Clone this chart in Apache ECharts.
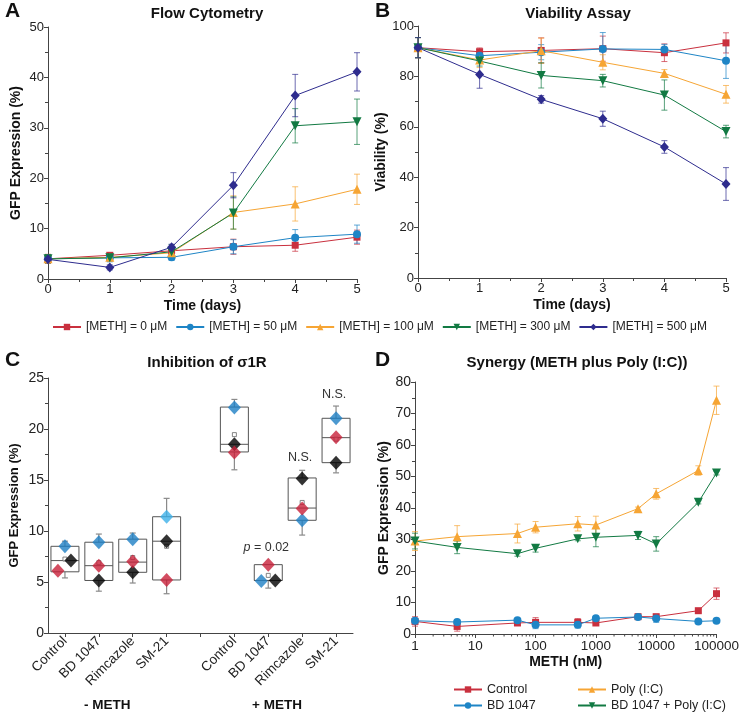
<!DOCTYPE html>
<html><head><meta charset="utf-8">
<script src="https://cdn.jsdelivr.net/npm/echarts@6/dist/echarts.min.js"></script>
<style>html,body{margin:0;padding:0;background:#fff}#c{width:742px;height:712px}</style>
</head><body><div id="c"></div>
<script>
// ---------- Panel A / B data ----------
const days = [0, 1, 2, 3, 4, 5];
const methNames = ['[METH] = 0 μM', '[METH] = 50 μM', '[METH] = 100 μM', '[METH] = 300 μM', '[METH] = 500 μM'];
const flow0 = [4.0, 4.7, 5.6, 6.4, 6.7, 8.3];
const flow0Err = [0.9, 0.5, 0.5, 1.5, 1.2, 1.4];
const flow50 = [4.0, 4.2, 4.3, 6.4, 8.2, 8.9];
const flow50Err = [0.8, 0.8, 0.6, 1.4, 1.6, 1.8];
const flow100 = [4.0, 4.3, 5.2, 13.2, 14.9, 17.8];
const flow100Err = [0.8, 0.6, 0.8, 3.3, 3.4, 3.0];
const flow300 = [4.0, 4.2, 5.4, 13.1, 30.4, 31.2];
const flow300Err = [0.8, 0.6, 1.4, 3.2, 3.4, 4.5];
const flow500 = [3.9, 2.3, 6.3, 18.6, 36.4, 41.1];
const flow500Err = [0.6, 0.5, 0.6, 2.5, 4.2, 3.8];

const via0 = [91.4, 89.8, 90.3, 91.0, 89.4, 93.3];
const via0Err = [4, 1.5, 5, 5, 3.5, 4];
const via50 = [91.4, 88.2, 89.6, 90.9, 90.7, 86.2];
const via50Err = [4, 2.5, 3, 6.5, 2, 7];
const via100 = [91.4, 86.5, 90.2, 85.6, 81.2, 72.9];
const via100Err = [4, 3, 5, 3, 1.5, 3.5];
const via300 = [91.4, 86.1, 80.4, 78.3, 72.6, 58.1];
const via300Err = [4, 2, 5, 2.5, 6, 2.5];
const via500 = [91.4, 80.8, 70.9, 63.2, 52.0, 37.3];
const via500Err = [4, 5.5, 1.5, 3, 2.5, 6.5];

// ---------- Panel C data ----------
const catsC = ['Control', 'BD 1047', 'Rimcazole', 'SM-21', '', 'Control', 'BD 1047', 'Rimcazole', 'SM-21'];
const boxMin = [5.4, 4.1, 4.9, 3.85, null, 16.0, 4.4, 9.6, 15.7];
const boxQ1 = [6.0, 5.15, 5.95, 5.2, null, 17.75, 5.15, 11.05, 16.7];
const boxMed = [7.1, 6.6, 6.95, 9.0, null, 18.5, 5.15, 12.25, 19.15];
const boxQ3 = [8.5, 8.9, 9.2, 11.4, null, 22.15, 6.7, 15.2, 21.05];
const boxMax = [9.0, 9.7, 9.8, 13.2, null, 22.9, 6.7, 15.95, 22.25];
const meanC = [7.25, 6.9, 7.4, 8.5, null, 19.45, 5.65, 12.8, 19.0];
const ptBlue = [8.5, 8.9, 9.2, 11.4, null, 22.1, 5.1, 11.05, 21.05];
const ptRed = [6.1, 6.6, 7.0, 5.2, null, 17.7, 6.7, 12.2, 19.2];
const ptBlack = [7.1, 5.15, 5.95, 9.0, null, 18.5, 5.15, 15.15, 16.7];
const annoCat = [6, 7, 8];
const annoVal = [8.4, 17.2, 23.4];
const annoText = ['{i|p} = 0.02', 'N.S.', 'N.S.'];

// ---------- Panel D data ----------
const methNM = [1, 5, 50, 100, 500, 1000, 5000, 10000, 50000, 100000];
const dNames = ['Control', 'BD 1047', 'Poly (I:C)', 'BD 1047 + Poly (I:C)'];
const dCtrl = [4.0, 2.4, 3.5, 3.7, 3.7, 3.5, 5.5, 5.5, 7.4, 12.8];
const dCtrlErr = [1.5, 1.5, 0.8, 1.5, 1.2, 0.5, 0.5, 0.5, 0.5, 1.8];
const dBD = [4.2, 3.8, 4.4, 2.9, 2.9, 5.0, 5.4, 4.9, 4.0, 4.2];
const dBDErr = [0.8, 0.6, 0.5, 1.2, 1.0, 0.5, 0.5, 1.2, 0.4, 0.5];
const dPoly = [29.5, 30.9, 31.9, 33.9, 35.0, 34.6, 39.8, 44.5, 51.9, 74.2];
const dPolyErr = [3, 3.5, 3, 1.8, 2.3, 2.8, 0.5, 1.7, 1.5, 4.5];
const dBDPoly = [29.5, 27.5, 25.5, 27.2, 30.2, 30.7, 31.3, 28.6, 41.8, 51.1];
const dBDPolyErr = [2.5, 2, 0.8, 1.2, 0.6, 3, 1.3, 2.3, 0.5, 0.6];
const logMinorTicks = [2,3,4,5,6,7,8,9,20,30,40,50,60,70,80,90,200,300,400,500,600,700,800,900,
  2000,3000,4000,5000,6000,7000,8000,9000,20000,30000,40000,50000,60000,70000,80000,90000];

// ---------- styles ----------
const FONT = "'Liberation Sans', Arial, sans-serif";
const C_RED = '#c9303e', C_BLUE = '#1e85c6', C_ORANGE = '#f6a534', C_GREEN = '#127a43', C_PURPLE = '#2e2c8e';
const SYM = {
  sq: {s: 'rect', size: 7, r: 0},
  ci: {s: 'circle', size: 8, r: 0},
  tu: {s: 'triangle', size: 9, r: 0},
  td: {s: 'triangle', size: 9, r: 180},
  di: {s: 'diamond', size: [9, 10], r: 0}
};
const AX = '#444';

function errSeries(xi, yi, xs, ys, es, color) {
  return {
    type: 'custom', xAxisIndex: xi, yAxisIndex: yi, z: 2, silent: true, animation: false,
    data: xs.map((x, i) => [x, ys[i], es[i]]), encode: {x: 0, y: 1},
    renderItem: (p, api) => {
      const x = api.value(0), y = api.value(1), e = api.value(2);
      const t = api.coord([x, y + e]), b = api.coord([x, y - e]);
      const st = {stroke: color, lineWidth: 1, opacity: 0.7};
      return {type: 'group', children: [
        {type: 'line', shape: {x1: t[0], y1: t[1], x2: b[0], y2: b[1]}, style: st},
        {type: 'line', shape: {x1: t[0] - 3, y1: t[1], x2: t[0] + 3, y2: t[1]}, style: st},
        {type: 'line', shape: {x1: b[0] - 3, y1: b[1], x2: b[0] + 3, y2: b[1]}, style: st}
      ]};
    }
  };
}
function lineSeries(name, xi, yi, xs, ys, color, sym) {
  return {
    type: 'line', name, xAxisIndex: xi, yAxisIndex: yi, animation: false, z: 3,
    data: xs.map((x, i) => [x, ys[i]]),
    symbol: sym.s, symbolSize: sym.size, symbolRotate: sym.r, showSymbol: true,
    lineStyle: {color, width: 1}, itemStyle: {color}
  };
}
function valAxis(o) {
  return Object.assign({
    type: 'value', gridIndex: 0,
    axisLine: {show: true, lineStyle: {color: AX, width: 1}},
    axisTick: {show: true, length: 4, lineStyle: {color: AX}},
    minorTick: {show: true, splitNumber: 2, length: 3, lineStyle: {color: AX}},
    splitLine: {show: false},
    axisLabel: {fontSize: 13, color: '#222', fontFamily: FONT, margin: 4},
    nameLocation: 'middle',
    nameTextStyle: {fontSize: 14, fontWeight: 'bold', color: '#111', fontFamily: FONT}
  }, o);
}

const series = [];
const flows = [flow0, flow50, flow100, flow300, flow500];
const flowErrs = [flow0Err, flow50Err, flow100Err, flow300Err, flow500Err];
const vias = [via0, via50, via100, via300, via500];
const viaErrs = [via0Err, via50Err, via100Err, via300Err, via500Err];
const abColors = [C_RED, C_BLUE, C_ORANGE, C_GREEN, C_PURPLE];
const abSyms = [SYM.sq, SYM.ci, SYM.tu, SYM.td, SYM.di];
for (let k = 0; k < 5; k++) {
  series.push(lineSeries(methNames[k], 0, 0, days, flows[k], abColors[k], abSyms[k]));
  series.push(lineSeries(methNames[k], 1, 1, days, vias[k], abColors[k], abSyms[k]));
}
for (let k = 0; k < 5; k++) {
  series.push(errSeries(0, 0, days, flows[k], flowErrs[k], abColors[k]));
  series.push(errSeries(1, 1, days, vias[k], viaErrs[k], abColors[k]));
}
// Panel D
const dVals = [dCtrl, dBD, dPoly, dBDPoly];
const dErrs = [dCtrlErr, dBDErr, dPolyErr, dBDPolyErr];
const dColors = [C_RED, C_BLUE, C_ORANGE, C_GREEN];
const dSyms = [SYM.sq, SYM.ci, SYM.tu, SYM.td];
for (let k = 0; k < 4; k++) series.push(lineSeries(dNames[k], 3, 3, methNM, dVals[k], dColors[k], dSyms[k]));
for (let k = 0; k < 4; k++) series.push(errSeries(3, 3, methNM, dVals[k], dErrs[k], dColors[k]));
series.push({
  type: 'custom', xAxisIndex: 3, yAxisIndex: 3, silent: true, animation: false, clip: false,
  data: logMinorTicks.map(v => [v, 0]), encode: {x: 0, y: 1},
  renderItem: (p, api) => {
    const c = api.coord([api.value(0), 0]);
    return {type: 'line', shape: {x1: c[0], y1: c[1], x2: c[0], y2: c[1] + 2.5}, style: {stroke: AX, lineWidth: 1}};
  }
});

// Panel C boxes
const boxData = [];
catsC.forEach((c, i) => { if (boxQ1[i] != null) boxData.push([i, boxMin[i], boxQ1[i], boxMed[i], boxQ3[i], boxMax[i]]); });
series.push({
  type: 'custom', xAxisIndex: 2, yAxisIndex: 2, silent: true, animation: false, z: 2,
  data: boxData, encode: {x: 0, y: [1, 5]},
  renderItem: (p, api) => {
    const i = api.value(0);
    const cMin = api.coord([i, api.value(1)]), c1 = api.coord([i, api.value(2)]), cMd = api.coord([i, api.value(3)]),
          c3 = api.coord([i, api.value(4)]), cMax = api.coord([i, api.value(5)]);
    const x = c1[0], hw = 14, cw = 3;
    const wst = {stroke: '#8a8a8a', lineWidth: 1.2};
    const bst = {stroke: '#555', lineWidth: 1, fill: null};
    return {type: 'group', children: [
      {type: 'line', shape: {x1: x, y1: c3[1], x2: x, y2: cMax[1]}, style: wst},
      {type: 'line', shape: {x1: x - cw, y1: cMax[1], x2: x + cw, y2: cMax[1]}, style: wst},
      {type: 'line', shape: {x1: x, y1: c1[1], x2: x, y2: cMin[1]}, style: wst},
      {type: 'line', shape: {x1: x - cw, y1: cMin[1], x2: x + cw, y2: cMin[1]}, style: wst},
      {type: 'rect', shape: {x: x - hw, y: c3[1], width: 2 * hw, height: c1[1] - c3[1]}, style: {stroke: '#555', lineWidth: 1, fill: '#fff'}},
      {type: 'line', shape: {x1: x - hw, y1: cMd[1], x2: x + hw, y2: cMd[1]}, style: bst}
    ]};
  }
});
series.push({
  type: 'scatter', xAxisIndex: 2, yAxisIndex: 2, silent: true, animation: false, z: 3,
  symbol: 'rect', symbolSize: 4, itemStyle: {color: '#fff', borderColor: '#666', borderWidth: 1},
  data: meanC.map((v, i) => v == null ? null : [i, v]).filter(d => d)
});
const offRed = [-7, 0, 0, 0, 0, 0, 0, 0, 0];
const offBlue = [0, 0, 0, 0, 0, 0, -7, 0, 0];
const offBlack = [6, 0, 0, 0, 0, 0, 7, 0, 0];
const blueShade = ['#1e7fc4', '#1e7fc4', '#1e7fc4', '#3cb0e8', null, '#1e7fc4', '#1e7fc4', '#1e7fc4', '#1e7fc4'];
function diamonds(vals, offs, colorFn, z) {
  return {
    type: 'scatter', xAxisIndex: 2, yAxisIndex: 2, silent: true, animation: false, z,
    symbol: 'diamond', symbolSize: [13, 14],
    data: vals.map((v, i) => v == null ? null : {value: [i, v], symbolOffset: [offs[i], 0], itemStyle: {color: colorFn(i)}}).filter(d => d)
  };
}
series.push(diamonds(ptBlack, offBlack, () => '#000', 4));
series.push(diamonds(ptBlue, offBlue, i => blueShade[i], 5));
series.push(diamonds(ptRed, offRed, () => '#c8203a', 6));
series.push({
  type: 'custom', xAxisIndex: 2, yAxisIndex: 2, silent: true, animation: false, z: 7,
  data: annoCat.map((c, i) => [c, annoVal[i]]), encode: {x: 0, y: 1},
  renderItem: (p, api) => {
    const c = api.coord([api.value(0), api.value(1)]);
    return {type: 'text', x: c[0] - 2, y: c[1], style: {text: annoText[p.dataIndex], fill: '#333', font: '12.5px ' + FONT,
      align: 'center', verticalAlign: 'middle', rich: {i: {fontStyle: 'italic', fontSize: 12.5, fontFamily: FONT, fill: '#333'}}}};
  }
});

const titleStyle = {fontSize: 15, fontWeight: 'bold', color: '#111', fontFamily: FONT};
const letterStyle = {fontSize: 21, fontWeight: 'bold', color: '#111', fontFamily: FONT};
const legText = {fontSize: 12, color: '#222', fontFamily: FONT};
const legTextD = {fontSize: 12.5, color: '#222', fontFamily: FONT};
function oneLegend(name, left, top) {
  return {data: [name], left, top, itemWidth: 28, itemHeight: 8, textStyle: legTextD, padding: 0};
}

const option = {
  backgroundColor: '#fff',
  animation: false,
  title: [
    {text: 'A', left: 0, top: -4, textStyle: letterStyle},
    {text: 'Flow Cytometry', left: 202, top: 1, textAlign: 'center', textStyle: titleStyle},
    {text: 'B', left: 370, top: -4, textStyle: letterStyle},
    {text: 'Viability Assay', left: 573, top: 1, textAlign: 'center', textStyle: titleStyle},
    {text: 'C', left: 0, top: 345, textStyle: letterStyle},
    {text: 'Inhibition of σ1R', left: 202, top: 350, textAlign: 'center', textStyle: titleStyle},
    {text: 'D', left: 370, top: 345, textStyle: letterStyle},
    {text: 'Synergy (METH plus Poly (I:C))', left: 572, top: 350, textAlign: 'center', textStyle: titleStyle}
  ],
  legend: [
    {data: methNames, left: 52, top: 321, itemWidth: 28, itemHeight: 8, itemGap: 8, textStyle: legText, padding: 0},
    oneLegend('Control', 453, 683),
    oneLegend('BD 1047', 453, 699),
    oneLegend('Poly (I:C)', 577, 683),
    oneLegend('BD 1047 + Poly (I:C)', 577, 699)
  ],
  grid: [
    {left: 48, top: 27, width: 309, height: 252},
    {left: 418, top: 26, width: 308, height: 252},
    {left: 48, top: 378, width: 305, height: 255},
    {left: 415, top: 382, width: 311, height: 252}
  ],
  xAxis: [
    valAxis({gridIndex: 0, min: 0, max: 5, interval: 1, name: 'Time (days)', nameGap: 20}),
    valAxis({gridIndex: 1, min: 0, max: 5, interval: 1, name: 'Time (days)', nameGap: 20}),
    {type: 'category', gridIndex: 2, data: catsC, boundaryGap: true,
      axisLine: {show: true, lineStyle: {color: AX}},
      axisTick: {show: true, alignWithLabel: true, length: 4, lineStyle: {color: AX}},
      axisLabel: {rotate: 45, fontSize: 13.5, color: '#222', fontFamily: FONT, margin: 6, interval: 0}},
    valAxis({gridIndex: 3, type: 'log', logBase: 10, min: 1, max: 100000, minorTick: {show: false},
      name: 'METH (nM)', nameGap: 21,
      axisLabel: {fontSize: 13.5, color: '#222', fontFamily: FONT, margin: 5, formatter: v => String(Math.round(v))}})
  ],
  yAxis: [
    valAxis({gridIndex: 0, min: 0, max: 50, interval: 10, name: 'GFP Expression (%)', nameGap: 25}),
    valAxis({gridIndex: 1, min: 0, max: 100, interval: 20, name: 'Viability (%)', nameGap: 25}),
    valAxis({gridIndex: 2, min: 0, max: 25, interval: 5, name: 'GFP Expression (%)', nameGap: 27,
      axisLabel: {fontSize: 14, color: '#222', fontFamily: FONT, margin: 4},
      nameTextStyle: {fontSize: 13, fontWeight: 'bold', color: '#111', fontFamily: FONT}}),
    valAxis({gridIndex: 3, min: 0, max: 80, interval: 10, name: 'GFP Expression (%)', nameGap: 24,
      axisLabel: {fontSize: 14, color: '#222', fontFamily: FONT, margin: 4}})
  ],
  graphic: [
    {type: 'text', left: 84, top: 698, style: {text: '- METH', font: 'bold 13.5px ' + FONT, fill: '#111'}},
    {type: 'text', left: 252, top: 698, style: {text: '+ METH', font: 'bold 13.5px ' + FONT, fill: '#111'}}
  ],
  series
};
const chart = echarts.init(document.getElementById('c'));
chart.setOption(option);
</script></body></html>
